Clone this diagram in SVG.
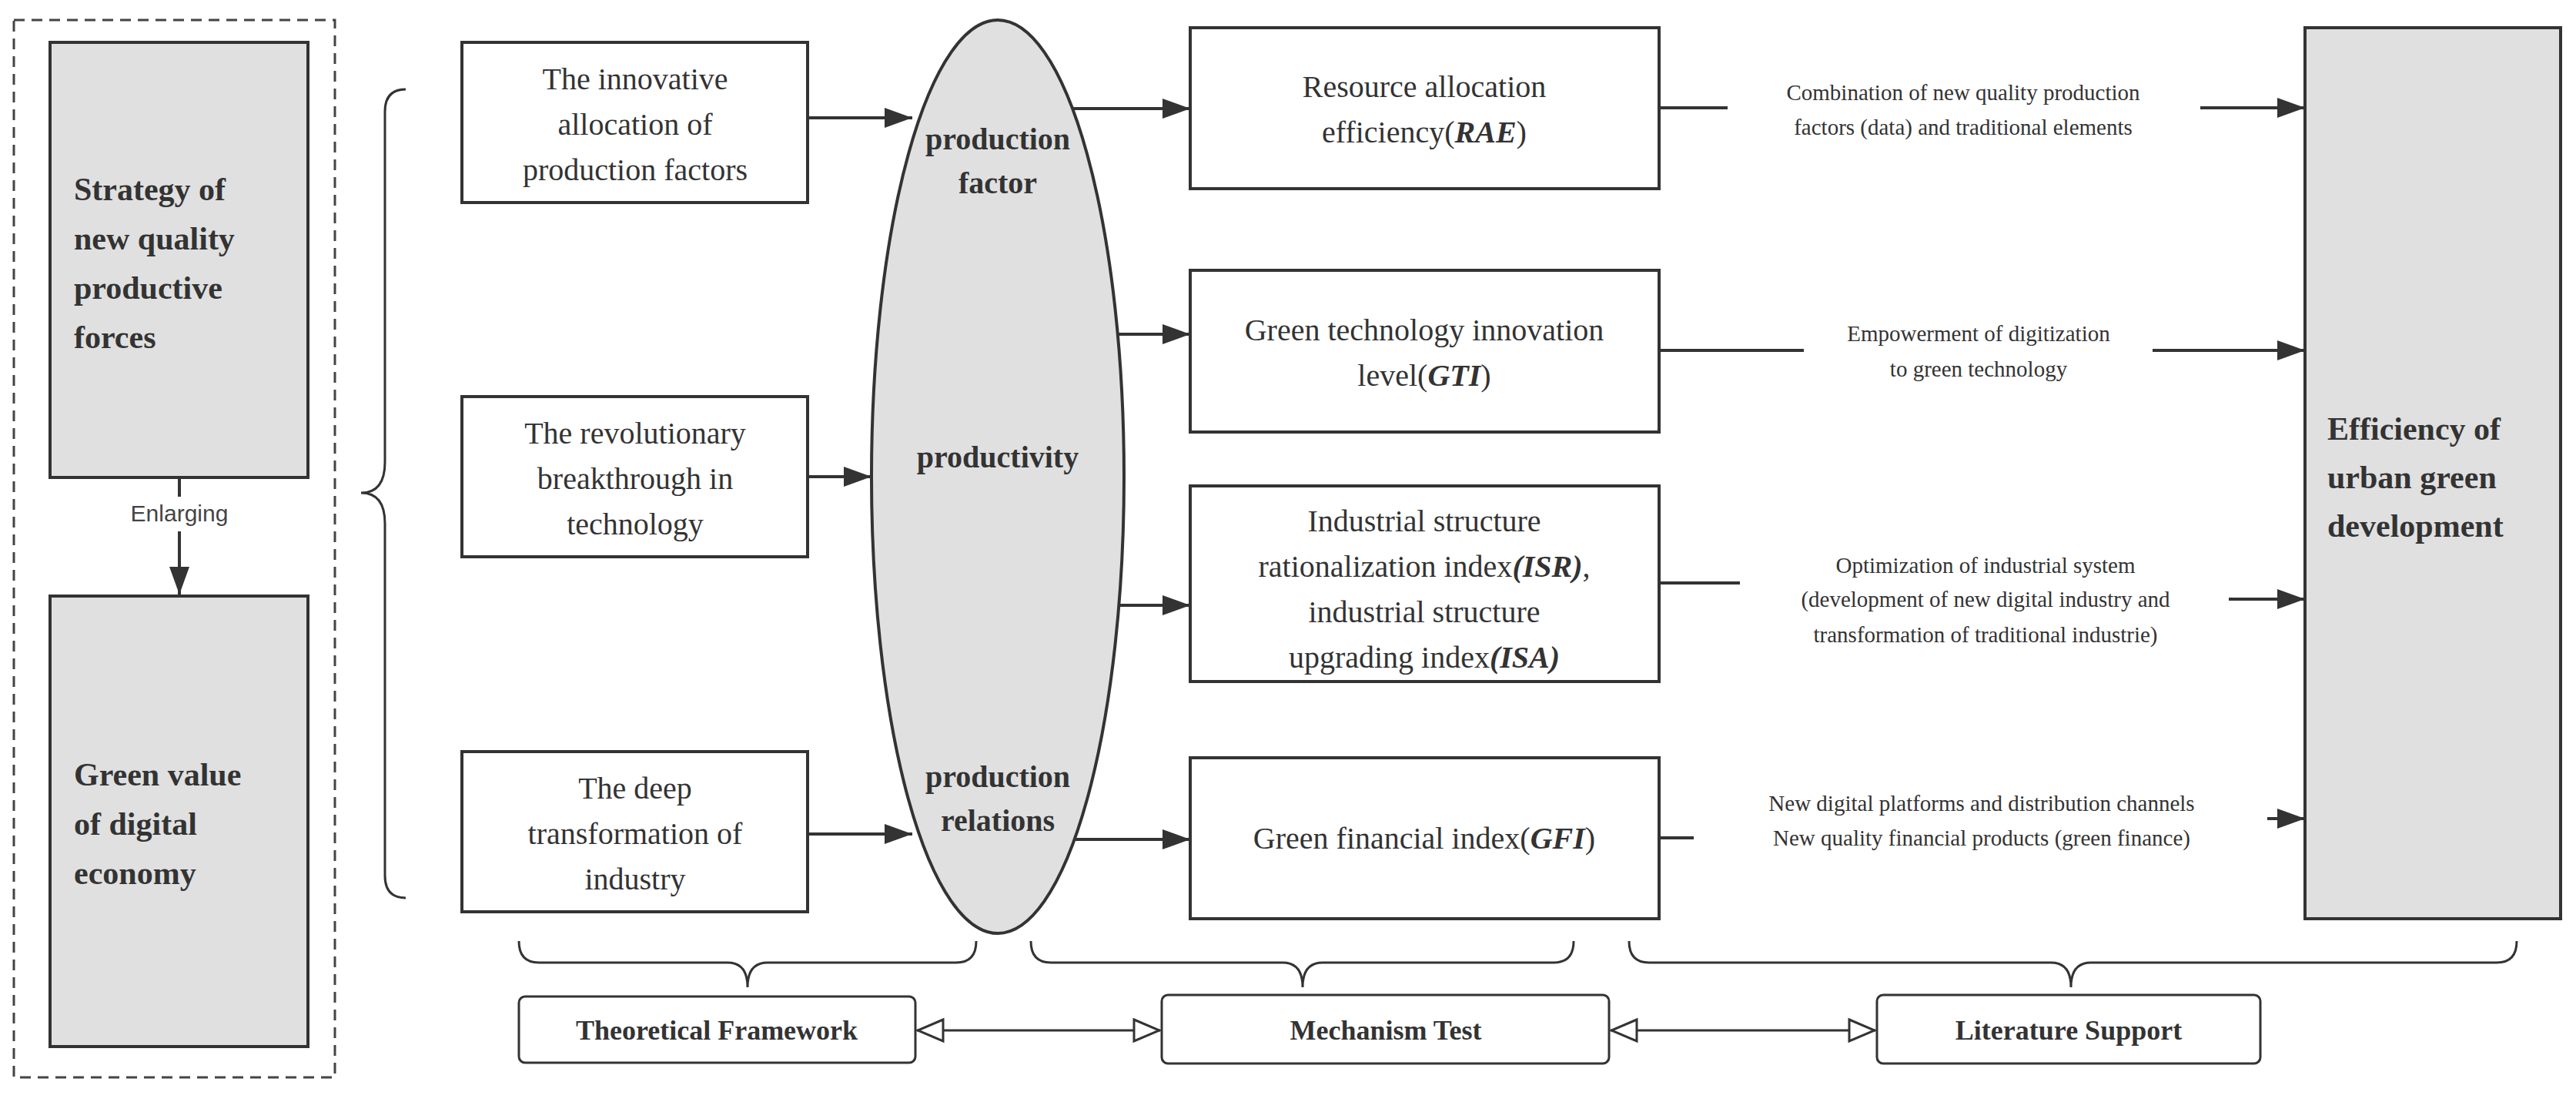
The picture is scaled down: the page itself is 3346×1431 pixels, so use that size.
<svg xmlns="http://www.w3.org/2000/svg" width="3346" height="1431" viewBox="0 0 3346 1431">
<style>
.box{fill:#fff;stroke:#333;stroke-width:4}
.gray{fill:#e0e0e0;stroke:#333;stroke-width:4}
.t{font-family:"Liberation Serif",serif;font-size:40px;fill:#333;text-anchor:middle}
.b{font-family:"Liberation Serif",serif;font-size:42px;font-weight:bold;fill:#333}
.s{font-family:"Liberation Serif",serif;font-size:29px;fill:#333;text-anchor:middle}
.lab{font-family:"Liberation Serif",serif;font-size:36px;font-weight:bold;fill:#333;text-anchor:middle}
.c{fill:none;stroke:#333;stroke-width:4}
.br{fill:none;stroke:#333;stroke-width:3}
.bi{font-weight:bold;font-style:italic}
.i{font-style:italic;font-weight:bold}
</style>
<defs>
<marker id="a" markerWidth="10" markerHeight="10" refX="9" refY="5" orient="auto" markerUnits="userSpaceOnUse" viewBox="0 0 10 10"><path d="M0,0 L10,5 L0,10 z" fill="#333"/></marker>
<marker id="ah" markerWidth="40" markerHeight="30" refX="38" refY="15" orient="auto" markerUnits="userSpaceOnUse"><path d="M2,2 L38,15 L2,28 z" fill="#333"/></marker>
<marker id="oe" markerWidth="40" markerHeight="34" refX="38" refY="17" orient="auto" markerUnits="userSpaceOnUse"><path d="M4,3 L37,17 L4,31 z" fill="#fff" stroke="#333" stroke-width="3"/></marker>
<marker id="os" markerWidth="40" markerHeight="34" refX="2" refY="17" orient="auto" markerUnits="userSpaceOnUse"><path d="M36,3 L3,17 L36,31 z" fill="#fff" stroke="#333" stroke-width="3"/></marker>
</defs>

<g id="frame"><rect x="18" y="26" width="417" height="1373" fill="none" stroke="#444" stroke-width="3" stroke-dasharray="14,9"/></g>
<g id="strategy"><rect class="gray" x="65" y="55" width="335" height="565"/>
<text class="b" x="96" y="260">Strategy of</text><text class="b" x="96" y="324">new quality</text><text class="b" x="96" y="388">productive</text><text class="b" x="96" y="452">forces</text></g>
<g id="green"><rect class="gray" x="65" y="774" width="335" height="585"/>
<text class="b" x="96" y="1020">Green value</text><text class="b" x="96" y="1084">of digital</text><text class="b" x="96" y="1148">economy</text></g>

<g id="innov"><rect class="box" x="600" y="55" width="449" height="208"/>
<text class="t" x="825" y="116">The innovative</text><text class="t" x="825" y="175">allocation of</text><text class="t" x="825" y="234">production factors</text></g>
<g id="revol"><rect class="box" x="600" y="515" width="449" height="208"/>
<text class="t" x="825" y="576">The revolutionary</text><text class="t" x="825" y="635">breakthrough in</text><text class="t" x="825" y="694">technology</text></g>
<g id="deep"><rect class="box" x="600" y="976" width="449" height="208"/>
<text class="t" x="825" y="1037">The deep</text><text class="t" x="825" y="1096">transformation of</text><text class="t" x="825" y="1155">industry</text></g>

<g id="ellipse"><ellipse cx="1296" cy="619" rx="164" ry="593" class="gray"/>
<text class="lab" x="1296" y="194" style="font-size:40px">production</text><text class="lab" x="1296" y="251" style="font-size:40px">factor</text>
<text class="lab" x="1296" y="607" style="font-size:40px">productivity</text>
<text class="lab" x="1296" y="1022" style="font-size:40px">production</text><text class="lab" x="1296" y="1079" style="font-size:40px">relations</text></g>

<g id="rae"><rect class="box" x="1546" y="36" width="609" height="209"/>
<text class="t" x="1850" y="126">Resource allocation</text><text class="t" x="1850" y="185">efficiency(<tspan class="i">RAE</tspan>)</text></g>
<g id="gti"><rect class="box" x="1546" y="351" width="609" height="210"/>
<text class="t" x="1850" y="442">Green technology innovation</text><text class="t" x="1850" y="501">level(<tspan class="i">GTI</tspan>)</text></g>
<g id="isr"><rect class="box" x="1546" y="631" width="609" height="254"/>
<text class="t" x="1850" y="690">Industrial structure</text><text class="t" x="1850" y="749">rationalization index<tspan class="i">(ISR)</tspan>,</text><text class="t" x="1850" y="808">industrial structure</text><text class="t" x="1850" y="867">upgrading index<tspan class="i">(ISA)</tspan></text></g>
<g id="gfi"><rect class="box" x="1546" y="984" width="609" height="209"/>
<text class="t" x="1850" y="1102">Green financial index(<tspan class="i">GFI</tspan>)</text></g>

<g id="eff"><rect class="gray" x="2994" y="36" width="332" height="1157"/>
<text class="b" x="3023" y="571">Efficiency of</text><text class="b" x="3023" y="634">urban green</text><text class="b" x="3023" y="697">development</text></g>

<g id="theo"><rect class="box" x="674" y="1294" width="515" height="86" rx="8" style="stroke-width:3"/><text class="lab" x="931" y="1350">Theoretical Framework</text></g>
<g id="mech"><rect class="box" x="1509" y="1292" width="581" height="89" rx="8" style="stroke-width:3"/><text class="lab" x="1800" y="1350">Mechanism Test</text></g>
<g id="lit"><rect class="box" x="2438" y="1292" width="498" height="89" rx="8" style="stroke-width:3"/><text class="lab" x="2687" y="1350">Literature Support</text></g>

<g id="labels">
<text class="s" x="2550" y="130">Combination of new quality production</text>
<text class="s" x="2550" y="175">factors (data) and traditional elements</text>
<text class="s" x="2570" y="443">Empowerment of digitization</text>
<text class="s" x="2570" y="489">to green technology</text>
<text class="s" x="2579" y="744">Optimization of industrial system</text>
<text class="s" x="2579" y="788">(development of new digital industry and</text>
<text class="s" x="2579" y="834">transformation of traditional industrie)</text>
<text class="s" x="2574" y="1053">New digital platforms and distribution channels</text>
<text class="s" x="2574" y="1098">New quality financial products (green finance)</text>
<text x="233" y="677" style="font-family:'Liberation Sans',sans-serif;font-size:30px;fill:#444;text-anchor:middle">Enlarging</text>
</g>

<g id="connectors">
<path class="c" d="M233 620 V645" />
<path class="c" d="M233 690 V772" marker-end="url(#ah)"/>
<path class="c" d="M1049 153 H1185" marker-end="url(#ah)"/>
<path class="c" d="M1049 619 H1132" marker-end="url(#ah)"/>
<path class="c" d="M1049 1083 H1185" marker-end="url(#ah)"/>
<path class="c" d="M1393 141 H1546" marker-end="url(#ah)"/>
<path class="c" d="M1452 434 H1546" marker-end="url(#ah)"/>
<path class="c" d="M1453 786 H1546" marker-end="url(#ah)"/>
<path class="c" d="M1396 1090 H1546" marker-end="url(#ah)"/>
<path class="c" d="M2155 140 H2244"/><path class="c" d="M2858 140 H2994" marker-end="url(#ah)"/>
<path class="c" d="M2155 455 H2343"/><path class="c" d="M2796 455 H2994" marker-end="url(#ah)"/>
<path class="c" d="M2155 757 H2260"/><path class="c" d="M2895 778 H2994" marker-end="url(#ah)"/>
<path class="c" d="M2157 1088 H2200"/><path class="c" d="M2945 1063 H2994" marker-end="url(#ah)"/>
<path class="br" d="M527 116 Q500 116 500 145 V600 Q500 640 469 640 Q500 640 500 680 V1137 Q500 1166 527 1166"/>
<path class="br" d="M674 1222 Q674 1250 700 1250 H945 Q971 1250 971 1282 Q971 1250 997 1250 H1242 Q1268 1250 1268 1222"/>
<path class="br" d="M1339 1222 Q1339 1250 1365 1250 H1666 Q1692 1250 1692 1282 Q1692 1250 1718 1250 H2018 Q2044 1250 2044 1222"/>
<path class="br" d="M2116 1222 Q2116 1250 2142 1250 H2664 Q2690 1250 2690 1282 Q2690 1250 2716 1250 H3243 Q3269 1250 3269 1222"/>
<path class="br" d="M1191 1338 H1507" marker-start="url(#os)" marker-end="url(#oe)"/>
<path class="br" d="M2092 1338 H2436" marker-start="url(#os)" marker-end="url(#oe)"/>
</g>
</svg>
